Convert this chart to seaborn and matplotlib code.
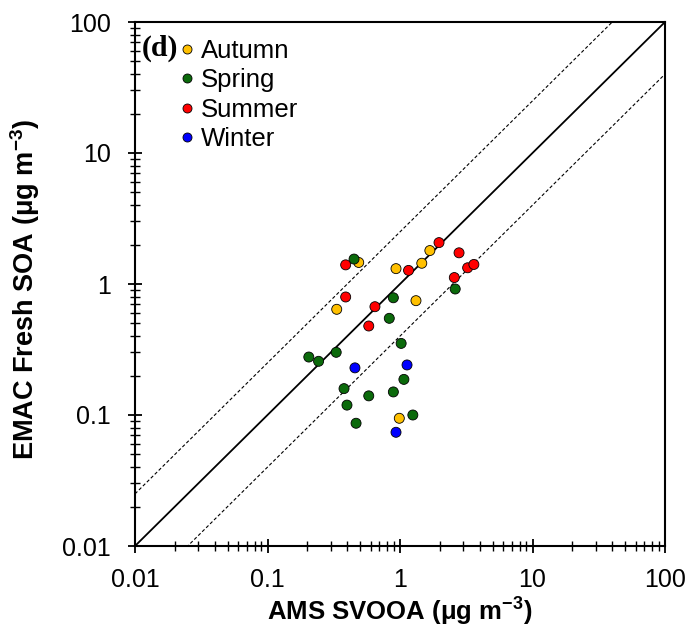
import matplotlib
matplotlib.use("Agg")
import matplotlib.pyplot as plt
import seaborn as sns
import numpy as np
import pandas as pd
from matplotlib.ticker import FixedLocator, FixedFormatter, LogLocator, NullFormatter

# ---- data ----
autumn_x = [0.488, 1.68, 0.933, 1.46, 1.32, 0.333, 0.988]
autumn_y = [1.46, 1.80, 1.31, 1.44, 0.746, 0.641, 0.0944]
spring_x = [0.450, 0.891, 2.61, 0.830, 1.02, 0.205, 0.243, 0.330, 1.07, 0.378, 0.581, 0.891, 0.398, 0.466, 1.25]
spring_y = [1.55, 0.785, 0.916, 0.547, 0.352, 0.277, 0.257, 0.301, 0.187, 0.159, 0.140, 0.150, 0.119, 0.0865, 0.100]
summer_x = [0.389, 1.97, 2.79, 1.16, 3.24, 3.61, 2.57, 0.389, 0.647, 0.581]
summer_y = [1.40, 2.07, 1.73, 1.27, 1.33, 1.41, 1.12, 0.796, 0.671, 0.478]
winter_x = [0.457, 1.13, 0.933]
winter_y = [0.229, 0.241, 0.0738]
seasons = ["Autumn", "Spring", "Summer", "Winter"]
colors = ["#FFC000", "#0B6A0B", "#FF0000", "#0000FF"]
ticks = [0.01, 0.1, 1, 10, 100]
tick_labels = ["0.01", "0.1", "1", "10", "100"]
ratio = 2.5

df = pd.concat([
    pd.DataFrame({"x": autumn_x, "y": autumn_y, "season": "Autumn"}),
    pd.DataFrame({"x": spring_x, "y": spring_y, "season": "Spring"}),
    pd.DataFrame({"x": summer_x, "y": summer_y, "season": "Summer"}),
    pd.DataFrame({"x": winter_x, "y": winter_y, "season": "Winter"}),
], ignore_index=True)

sns.set_style("ticks")
plt.rcParams["font.family"] = ["Liberation Sans", "DejaVu Sans"]
plt.rcParams["mathtext.fontset"] = "custom"
plt.rcParams["mathtext.rm"] = "Liberation Sans"
plt.rcParams["mathtext.bf"] = "Liberation Sans:bold"
for k in ["text.color", "axes.labelcolor", "xtick.color", "ytick.color", "axes.edgecolor"]:
    plt.rcParams[k] = "black"

W, H = 689, 628
fig = plt.figure(figsize=(W / 100, H / 100), dpi=100)
ax = fig.add_axes([135 / W, 1 - 546 / H, 530 / W, 524 / H])

lim = np.array([0.01, 100])
ax.plot(lim, lim, color="black", lw=1.3, zorder=1)
ax.plot(lim, lim * ratio, color="black", lw=0.8, ls=(0, (3, 2)), zorder=1)
ax.plot(lim, lim / ratio, color="black", lw=0.8, ls=(0, (3, 2)), zorder=1)

sns.scatterplot(data=df, x="x", y="y", hue="season", hue_order=seasons,
                palette=colors, s=52, edgecolor="black", linewidth=0.6,
                ax=ax, zorder=3)

ax.set_xscale("log")
ax.set_yscale("log")
ax.set_xlim(0.01, 100)
ax.set_ylim(0.01, 100)

for axis in (ax.xaxis, ax.yaxis):
    axis.set_major_locator(FixedLocator(ticks))
    axis.set_major_formatter(FixedFormatter(tick_labels))
    axis.set_minor_locator(LogLocator(base=10, subs=np.arange(2, 10)))
    axis.set_minor_formatter(NullFormatter())

ax.tick_params(which="major", direction="inout", length=10, width=1.3, labelsize=18)
ax.tick_params(axis="x", which="major", pad=10.5)
ax.tick_params(axis="y", which="major", pad=12.5)
ax.tick_params(which="minor", direction="inout", length=7, width=1.0)
for sp in ax.spines.values():
    sp.set_linewidth(1.5)

ax.set_xlabel(r"AMS SVOOA (μg m$^{\mathbf{-3}}$)", fontsize=18.5, fontweight="bold", labelpad=2)
ax.set_ylabel(r"EMAC Fresh SOA (μg m$^{\mathbf{-3}}$)", fontsize=19.5, fontweight="bold")
ax.yaxis.set_label_coords(-0.176, 0.489)

leg = ax.legend(loc="upper left", bbox_to_anchor=(166 / W, 1 - 29 / H),
                bbox_transform=fig.transFigure, frameon=False,
                fontsize=18.5, markerscale=0.9, handlelength=0.8, handletextpad=0.15,
                labelspacing=0.2, borderaxespad=0.0, borderpad=0.4, title=None)

fig.text(142 / W, 1 - 48 / H, "(d)", ha="left", va="center",
         fontsize=21.5, fontweight="bold", family=["Liberation Serif", "DejaVu Serif"])

fig.savefig("out.png", dpi=100)
